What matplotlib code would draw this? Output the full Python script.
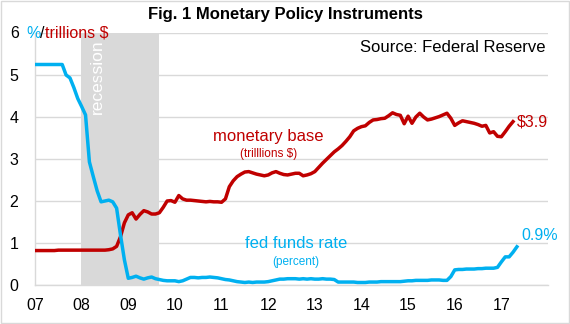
import numpy as np
import matplotlib
matplotlib.use("Agg")
import matplotlib.pyplot as plt
from matplotlib.patches import Rectangle

plt.rcParams['font.family'] = ['Liberation Sans', 'DejaVu Sans']

# monthly data, Jan 2007 onwards
fed_funds = [
    5.25, 5.25, 5.25, 5.25, 5.25, 5.25, 5.25, 5.25, 5.00, 4.93, 4.70, 4.44,   # 2007
    4.25, 4.05, 2.93, 2.58, 2.24, 1.98, 2.00, 2.02, 1.98, 1.83, 1.19, 0.60,   # 2008
    0.16, 0.18, 0.21, 0.17, 0.14, 0.17, 0.19, 0.15, 0.13, 0.11, 0.10, 0.10,   # 2009
    0.10, 0.08, 0.10, 0.14, 0.18, 0.18, 0.17, 0.18, 0.18, 0.19, 0.18, 0.17,   # 2010
    0.15, 0.13, 0.12, 0.10, 0.08, 0.07, 0.06, 0.07, 0.06, 0.07, 0.07, 0.07,   # 2011
    0.08, 0.10, 0.12, 0.14, 0.14, 0.15, 0.15, 0.15, 0.14, 0.15, 0.14, 0.15,   # 2012
    0.14, 0.14, 0.15, 0.14, 0.14, 0.13, 0.07, 0.07, 0.07, 0.07, 0.07, 0.06,   # 2013
    0.06, 0.06, 0.07, 0.07, 0.07, 0.08, 0.08, 0.08, 0.08, 0.08, 0.08, 0.09,   # 2014
    0.10, 0.10, 0.11, 0.11, 0.11, 0.11, 0.12, 0.12, 0.12, 0.11, 0.11, 0.20,   # 2015
    0.36, 0.37, 0.37, 0.38, 0.38, 0.38, 0.39, 0.39, 0.40, 0.40, 0.40, 0.42,   # 2016
    0.55, 0.67, 0.67, 0.78, 0.91,                                             # 2017
]

monetary_base = [
    0.82, 0.82, 0.82, 0.82, 0.82, 0.82, 0.83, 0.83, 0.83, 0.83, 0.83, 0.83,   # 2007
    0.83, 0.83, 0.83, 0.83, 0.83, 0.83, 0.83, 0.84, 0.86, 0.92, 1.15, 1.48,   # 2008
    1.67, 1.72, 1.57, 1.68, 1.77, 1.74, 1.69, 1.69, 1.72, 1.85, 2.00, 2.01,   # 2009
    1.97, 2.13, 2.05, 2.02, 2.02, 2.01, 2.00, 1.99, 1.98, 1.99, 1.98, 1.98,   # 2010
    1.97, 2.05, 2.34, 2.48, 2.58, 2.64, 2.69, 2.70, 2.67, 2.64, 2.62, 2.60,   # 2011
    2.62, 2.67, 2.70, 2.66, 2.63, 2.62, 2.64, 2.66, 2.66, 2.60, 2.62, 2.65,   # 2012
    2.70, 2.80, 2.90, 2.99, 3.08, 3.17, 3.24, 3.32, 3.42, 3.53, 3.67, 3.73,   # 2013
    3.77, 3.79, 3.87, 3.93, 3.94, 3.96, 3.97, 4.03, 4.10, 4.06, 4.04, 3.84,   # 2014
    4.02, 3.85, 4.00, 4.09, 4.00, 3.93, 3.95, 3.98, 4.01, 4.05, 4.09, 3.97,   # 2015
    3.80, 3.86, 3.91, 3.89, 3.87, 3.85, 3.82, 3.78, 3.80, 3.62, 3.65, 3.54,   # 2016
    3.53, 3.65, 3.78, 3.89,                                                   # 2017
]

year_labels = ['07', '08', '09', '10', '11', '12', '13', '14', '15', '16', '17']
recession = (2007.98, 2009.66)

RED = '#C00000'
CYAN = '#00B0F0'

t_ff = 2007 + np.arange(len(fed_funds)) / 12.0
t_mb = 2007 + np.arange(len(monetary_base)) / 12.0

fig = plt.figure(figsize=(5.7, 3.24), dpi=100)
ax = fig.add_axes([35 / 570, 39 / 324, 513 / 570, 252 / 324])

# recession shading
ax.axvspan(recession[0], recession[1], ymin=0, ymax=1, color='#D9D9D9', lw=0, zorder=0)
ax.text(recession[0] + 0.36, 5.86, 'recession', rotation=90, color='white',
        fontsize=12.5, ha='center', va='top', zorder=1)

ax.plot(t_mb, monetary_base, color=RED, lw=2.5, zorder=3)
ax.plot(t_ff, fed_funds, color=CYAN, lw=2.5, zorder=3)

ax.set_xlim(2007, 2018)
ax.set_ylim(0, 6)
ax.set_yticks(range(0, 7))
ax.set_xticks(np.arange(2007, 2018))
ax.set_xticklabels(year_labels)
ax.set_yticklabels(['0', '1', '2', '3', '4', '5', ''])
ax.tick_params(axis='both', length=0, labelsize=11.5, colors='black')
ax.tick_params(axis='y', pad=12)
ax.tick_params(axis='x', pad=9)
ax.grid(axis='y', color='#D9D9D9', lw=1, zorder=0)
for s in ['top', 'right']:
    ax.spines[s].set_visible(False)
for s in ['left', 'bottom']:
    ax.spines[s].set_color('#D9D9D9')
    ax.spines[s].set_linewidth(1)

# top-left axis label with mixed colours
fig.text(15 / 570, 1 - 33 / 324, '6', fontsize=11.5, ha='center', va='center')
t1 = fig.text(26 / 570, 1 - 33 / 324, '%', color=CYAN, fontsize=11.5, va='center')
fig.canvas.draw()
r = fig.canvas.get_renderer()
bb = t1.get_window_extent(r)
t2 = fig.text(bb.x1 / 570, 1 - 33 / 324, '/', color='black', fontsize=11.5, va='center')
bb = t2.get_window_extent(r)
fig.text(bb.x1 / 570, 1 - 33 / 324, 'trillions $', color=RED, fontsize=11.5, va='center')

fig.text(0.5, 1 - 15 / 324, 'Fig. 1 Monetary Policy Instruments', fontsize=12,
         fontweight='bold', ha='center', va='center')
fig.text(545 / 570, 1 - 48 / 324, 'Source: Federal Reserve', fontsize=12,
         ha='right', va='center')

ax.text(2012.0, 3.53, 'monetary base', color=RED, fontsize=12, ha='center', va='center')
ax.text(2012.0, 3.13, '(trilllions $)', color=RED, fontsize=8.5, ha='center', va='center')
ax.text(2012.6, 0.98, 'fed funds rate', color=CYAN, fontsize=12, ha='center', va='center')
ax.text(2012.6, 0.55, '(percent)', color=CYAN, fontsize=8.5, ha='center', va='center')

ax.text(t_mb[-1] + 0.08, monetary_base[-1], '$3.9', color=RED, fontsize=11.5,
        ha='left', va='center', clip_on=False)
ax.text(t_ff[-1] + 0.1, fed_funds[-1] + 0.27, '0.9%', color=CYAN, fontsize=11.5,
        ha='left', va='center', clip_on=False)

fig.patches.append(Rectangle((0.001, 0.002), 0.997, 0.995, transform=fig.transFigure,
                             fill=False, edgecolor='#D9D9D9', lw=1))

fig.savefig('out.png', dpi=100)
